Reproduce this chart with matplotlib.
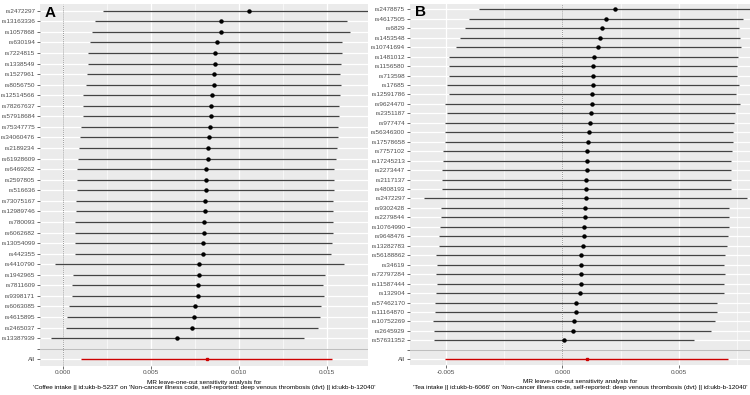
import matplotlib
matplotlib.use("Agg")
import matplotlib.pyplot as plt
import numpy as np

plt.rcParams['font.family'] = ['Liberation Sans', 'DejaVu Sans']

# panel A: coffee intake
snps_a = ["rs2472297", "rs13163336", "rs1057868", "rs630194", "rs7224815", "rs1338549",
          "rs1527961", "rs8056750", "rs12514566", "rs78267637", "rs57918684", "rs75347775",
          "rs34060476", "rs2189234", "rs61928609", "rs6469262", "rs2597805", "rs516636",
          "rs73075167", "rs12989746", "rs780093", "rs6062682", "rs13054099", "rs442355",
          "rs4410790", "rs1942965", "rs7811609", "rs9398171", "rs6063085", "rs4615895",
          "rs2465037", "rs13387939"]
b_a = [0.01057, 0.00898, 0.00896, 0.00871, 0.00864, 0.00860, 0.00858, 0.00854, 0.00843,
       0.00841, 0.00841, 0.00832, 0.00830, 0.00824, 0.00820, 0.00813, 0.00809, 0.00809,
       0.00803, 0.00803, 0.00800, 0.00800, 0.00796, 0.00794, 0.00773, 0.00773, 0.00764,
       0.00764, 0.00750, 0.00741, 0.00731, 0.00648]
lo_a = [0.00228, 0.00180, 0.00161, 0.00152, 0.00142, 0.00142, 0.00137, 0.00129, 0.00114,
        0.00114, 0.00114, 0.00102, 0.00093, 0.00091, 0.00085, 0.00080, 0.00078, 0.00078,
        0.00074, 0.00073, 0.00066, 0.00068, 0.00068, 0.00066, -0.00049, 0.00055, 0.00048,
        0.00049, 0.00032, 0.00023, 0.00015, -0.00070]
hi_a = [0.01790, 0.01614, 0.01629, 0.01585, 0.01582, 0.01576, 0.01572, 0.01576, 0.01572,
        0.01568, 0.01564, 0.01559, 0.01561, 0.01553, 0.01551, 0.01540, 0.01538, 0.01538,
        0.01534, 0.01531, 0.01534, 0.01530, 0.01525, 0.01521, 0.01593, 0.01489, 0.01477,
        0.01479, 0.01464, 0.01459, 0.01445, 0.01368]
all_a = (0.00815, 0.00101, 0.01529)

# panel B: tea intake
snps_b = ["rs2478875", "rs4617505", "rs6829", "rs1453548", "rs10741694", "rs1481012",
          "rs1156580", "rs713598", "rs17685", "rs12591786", "rs9624470", "rs2351187",
          "rs977474", "rs56346300", "rs17578658", "rs7757102", "rs17245213", "rs2273447",
          "rs2117137", "rs4808193", "rs2472297", "rs9302428", "rs2279844", "rs10764990",
          "rs9648476", "rs13282783", "rs56188862", "rs34619", "rs72797284", "rs11587444",
          "rs132904", "rs57462170", "rs11164870", "rs10752269", "rs2645929", "rs57631352"]
b_b = [0.00224, 0.00189, 0.00171, 0.00161, 0.00153, 0.00134, 0.00133, 0.00131, 0.00130,
       0.00129, 0.00129, 0.00124, 0.00119, 0.00114, 0.00111, 0.00107, 0.00106, 0.00104,
       0.00103, 0.00103, 0.00100, 0.00099, 0.00099, 0.00093, 0.00092, 0.00089, 0.00080,
       0.00080, 0.00079, 0.00079, 0.00077, 0.00059, 0.00057, 0.00050, 0.00044, 0.00006]
lo_b = [-0.00356, -0.00400, -0.00417, -0.00438, -0.00455, -0.00485, -0.00484, -0.00485,
        -0.00495, -0.00485, -0.00504, -0.00493, -0.00504, -0.00504, -0.00504, -0.00510,
        -0.00512, -0.00517, -0.00517, -0.00518, -0.00591, -0.00521, -0.00521, -0.00524,
        -0.00527, -0.00530, -0.00541, -0.00536, -0.00541, -0.00538, -0.00541, -0.00548,
        -0.00548, -0.00553, -0.00551, -0.00551]
hi_b = [0.00830, 0.00776, 0.00757, 0.00761, 0.00764, 0.00753, 0.00747, 0.00747, 0.00757,
        0.00744, 0.00761, 0.00740, 0.00737, 0.00733, 0.00730, 0.00726, 0.00724, 0.00723,
        0.00721, 0.00721, 0.00790, 0.00716, 0.00716, 0.00713, 0.00709, 0.00704, 0.00698,
        0.00694, 0.00698, 0.00694, 0.00691, 0.00664, 0.00661, 0.00654, 0.00638, 0.00563]
all_b = (0.00104, -0.00503, 0.00709)

xlab_a = ("MR leave-one-out sensitivity analysis for\n'Coffee intake || id:ukb-b-5237' on "
          "'Non-cancer illness code, self-reported: deep venous thrombosis (dvt) || id:ukb-b-12040'")
xlab_b = ("MR leave-one-out sensitivity analysis for\n'Tea intake || id:ukb-b-6066' on "
          "'Non-cancer illness code, self-reported: deep venous thrombosis (dvt) || id:ukb-b-12040'")


def loo_plot(ax, snps, b, lo, hi, allres, xlim, ticks, minor, xlab, tag):
    n = len(snps) + 2
    y = n - np.arange(len(snps))
    ax.set_facecolor("#EBEBEB")
    for s in ax.spines.values():
        s.set_visible(False)
    ax.set_xlim(xlim)
    ax.set_ylim(0.4, n + 0.6)
    ax.set_xticks(ticks)
    ax.set_xticks(minor, minor=True)
    ax.set_yticks(list(y) + [2, 1])
    ax.set_yticklabels(snps + ["", "All"])
    ax.grid(True, which="major", color="white", linewidth=0.9)
    ax.grid(True, which="minor", axis="x", color="white", linewidth=0.45)
    ax.set_axisbelow(True)
    ax.tick_params(axis="both", which="major", length=2, width=0.5, color="#333333",
                   labelsize=4.6, labelcolor="#4D4D4D", pad=1.5)
    ax.tick_params(which="minor", length=0)
    ax.set_xticklabels(["%.3f" % t for t in ticks])
    ax.axvline(0, color="#999999", linestyle=(0, (1, 1)), linewidth=0.7)
    ax.axhline(2, color="#BEBEBE", linewidth=0.8)
    ax.hlines(y, lo, hi, color="#444444", linewidth=0.9)
    ax.plot(b, y, "o", color="black", markersize=2.2)
    ax.hlines(1, allres[1], allres[2], color="#CC0000", linewidth=1.0)
    ax.plot(allres[0], 1, "s", color="#CC0000", markersize=1.8)
    ax.set_xlabel(xlab, fontsize=4.6, labelpad=3, linespacing=1.2)
    ax.text(0.015, 0.995, tag, transform=ax.transAxes, fontsize=11, fontweight="bold",
            va="top", ha="left")


fig = plt.figure(figsize=(7.5, 3.95), dpi=100)
axA = fig.add_axes([40 / 750, 29.4 / 395, 328 / 750, 361.2 / 395])
axB = fig.add_axes([410 / 750, 30 / 395, 340 / 750, 361.4 / 395])

loo_plot(axA, snps_a, b_a, lo_a, hi_a, all_a, (-0.00132, 0.01731),
         [0.0, 0.005, 0.010, 0.015], [0.0025, 0.0075, 0.0125], xlab_a, "A")
loo_plot(axB, snps_b, b_b, lo_b, hi_b, all_b, (-0.00653, 0.00804),
         [-0.005, 0.0, 0.005], [-0.0025, 0.0025, 0.0075], xlab_b, "B")

fig.savefig("out.png", dpi=100)
